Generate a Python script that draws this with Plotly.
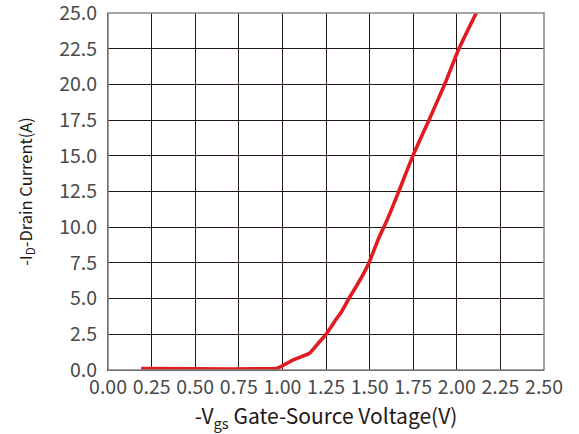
import plotly.graph_objects as go

vgs = [0.19, 0.5, 0.9, 0.97, 1.0, 1.06, 1.155, 1.2, 1.25, 1.305, 1.34, 1.381, 1.44,
       1.496, 1.551, 1.6, 1.667, 1.748, 1.84, 1.93, 2.012, 2.111]
id_ = [0.1, 0.08, 0.08, 0.12, 0.3, 0.7, 1.17, 1.8, 2.5, 3.5, 4.1, 5.0, 6.2,
       7.5, 9.2, 10.5, 12.5, 15.0, 17.5, 20.0, 22.5, 25.0]

x_ticks = [0.0, 0.25, 0.5, 0.75, 1.0, 1.25, 1.5, 1.75, 2.0, 2.25, 2.5]
x_labels = ["0.00", "0.25", "0.50", "0.75", "1.00", "1.25", "1.50", "1.75", "2.00", "2.25", "2.50"]
y_ticks = [0, 2.5, 5, 7.5, 10, 12.5, 15, 17.5, 20, 22.5, 25]
y_labels = ["0.0", "2.5", "5.0", "7.5", "10.0", "12.5", "15.0", "17.5", "20.0", "22.5", "25.0"]

FONT = "Noto Sans CJK SC"
fig = go.Figure()
fig.add_trace(go.Scatter(x=vgs, y=id_, mode="lines",
                         line=dict(color="#e01b22", width=3.6, shape="spline", smoothing=0.5),
                         showlegend=False))

fig.update_layout(
    width=579, height=434,
    margin=dict(l=108, r=35, t=13, b=64),
    paper_bgcolor="white", plot_bgcolor="white",
    font=dict(family=FONT, size=16, color="#333333"),
    xaxis=dict(range=[0, 2.5], tickmode="array", tickvals=x_ticks, ticktext=x_labels,
               automargin=False,
               showgrid=True, gridcolor="#231815", gridwidth=1,
               showline=True, linecolor="#231815", linewidth=1,
               zeroline=False, ticks="", ticklabelstandoff=0, ticklabeloverflow="allow",
               tickfont=dict(family=FONT, size=19.5, color="#4a4a4a"),
               title=dict(text="-V<sub>gs</sub> Gate-Source Voltage(V)", standoff=4,
                          font=dict(family=FONT, size=21, color="#231815"))),
    yaxis=dict(range=[0, 25.01], tickmode="array", tickvals=y_ticks, ticktext=y_labels,
               automargin=False,
               showgrid=True, gridcolor="#231815", gridwidth=1,
               showline=True, linecolor="#231815", linewidth=1,
               zeroline=False, ticks="", ticklabelstandoff=6, ticklabeloverflow="allow",
               tickfont=dict(family=FONT, size=19.5, color="#4a4a4a"),
               title=dict(text="-I<sub>D</sub>-Drain Current(A)", standoff=22,
                          font=dict(family=FONT, size=16.5, color="#231815"))),
)
fig.add_shape(type="rect", xref="paper", yref="paper", x0=0, y0=0, x1=1, y1=1,
              line=dict(color="#8a8585", width=1.5), layer="above")
fig.write_html("out.html")
